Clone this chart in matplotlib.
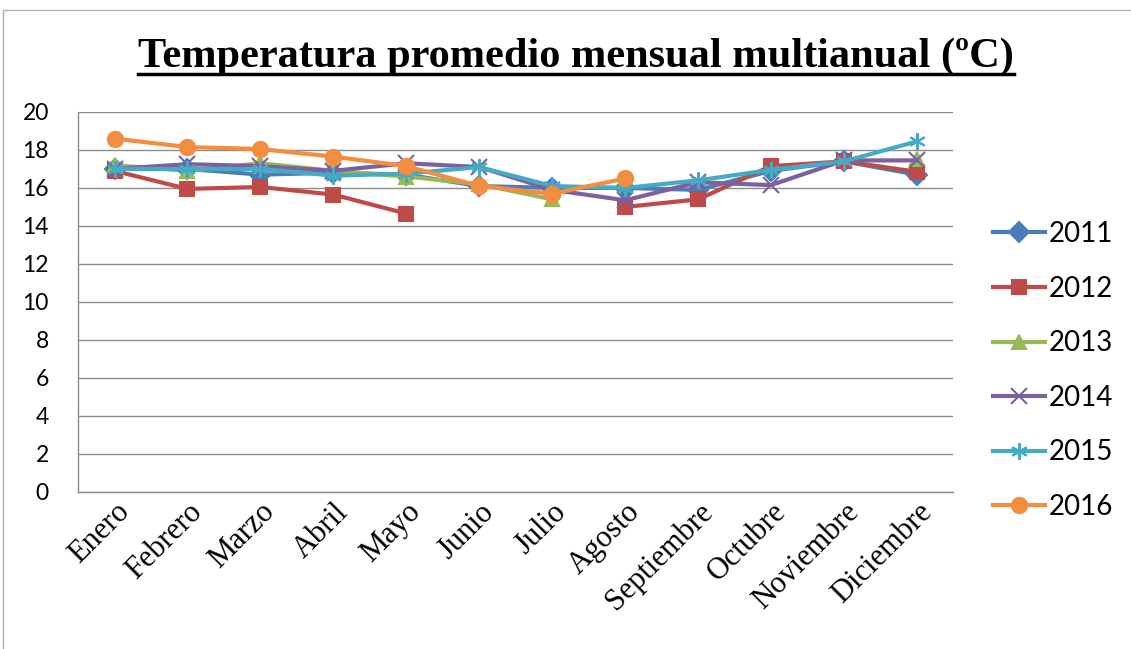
import numpy as np
import matplotlib.pyplot as plt
from matplotlib.lines import Line2D

# Meses y temperaturas promedio (ºC) por año
meses = ["Enero", "Febrero", "Marzo", "Abril", "Mayo", "Junio", "Julio",
         "Agosto", "Septiembre", "Octubre", "Noviembre", "Diciembre"]
nan = np.nan
t2011 = [17.0, 17.0, 16.7, 16.8, 16.7, 16.1, 16.0, 16.0, 15.9, 16.9, 17.4, 16.7]
t2012 = [16.9, 15.95, 16.05, 15.65, 14.65, nan, nan, 15.0, 15.4, 17.15, 17.4, 16.85]
t2013 = [17.2, 16.9, 17.3, 16.9, 16.6, 16.2, 15.4, nan, nan, nan, nan, 17.5]
t2014 = [17.0, 17.25, 17.15, 16.9, 17.3, 17.1, 15.9, 15.35, 16.3, 16.15, 17.45, 17.45]
t2015 = [17.0, 17.0, 17.0, 16.65, 16.75, 17.1, 16.1, 16.0, 16.4, 16.95, 17.4, 18.45]
t2016 = [18.6, 18.15, 18.05, 17.65, 17.15, 16.1, 15.7, 16.5, nan, nan, nan, nan]

series = [
    ("2011", t2011, "#4A7EBB", "D"),
    ("2012", t2012, "#BE4B48", "s"),
    ("2013", t2013, "#98B954", "^"),
    ("2014", t2014, "#7D60A0", "x"),
    ("2015", t2015, "#46AAC5", (6, 2, 0)),
    ("2016", t2016, "#F38E40", "o"),
]

fig = plt.figure(figsize=(11.31, 6.49), dpi=100)
ax = fig.add_axes([0.069, 0.242, 0.774, 0.5855])

x = np.arange(len(meses))
for name, vals, col, mk in series:
    ms = 10 if mk in ("D", "s", "^") else (11 if mk == "o" else 12)
    ax.plot(x, vals, color=col, lw=3, marker=mk, markersize=ms,
            markeredgecolor=col, markerfacecolor=col, markeredgewidth=1.5,
            label=name)

ax.set_xlim(-0.5, 11.5)
ax.set_ylim(0, 20)
ax.set_yticks(range(0, 21, 2))
ax.set_xticks(x)
ax.set_xticklabels(meses, rotation=45, ha="right", va="top",
                   rotation_mode="anchor", family="Liberation Serif", fontsize=22)
for lab in ax.get_yticklabels():
    lab.set_family("Lato")
    lab.set_fontsize(16.5)
ax.tick_params(axis="both", length=0)
ax.tick_params(axis="y", pad=21)
ax.tick_params(axis="x", pad=4)
ax.grid(axis="y", color="#8c8c8c", lw=1)
ax.set_axisbelow(True)
for s in ["top", "right"]:
    ax.spines[s].set_visible(False)
for s in ["left", "bottom"]:
    ax.spines[s].set_color("#8c8c8c")
    ax.spines[s].set_linewidth(1)

leg = fig.legend(loc="center left", bbox_to_anchor=(0.878, 0.429), frameon=False,
                 prop={"family": "Lato", "size": 20}, handlelength=1.87,
                 handletextpad=0.15, labelspacing=1.03, borderpad=0,
                 borderaxespad=0)

title = fig.text(0.509, 0.913, "Temperatura promedio mensual multianual (ºC)",
                 ha="center", va="center", family="Liberation Serif",
                 weight="bold", fontsize=30.5)

# subrayado del título
fig.canvas.draw()
bb = title.get_window_extent().transformed(fig.transFigure.inverted())
uy = bb.y0 + 0.003
fig.add_artist(Line2D([bb.x0, bb.x1], [uy, uy], transform=fig.transFigure,
                      color="black", lw=2.5))

# borde del área del gráfico
fig.add_artist(Line2D([0.003, 0.003, 1.0], [0.0, 0.985, 0.985],
                      transform=fig.transFigure, color="#b0b0b0", lw=1))

fig.savefig("out.png", dpi=100)
